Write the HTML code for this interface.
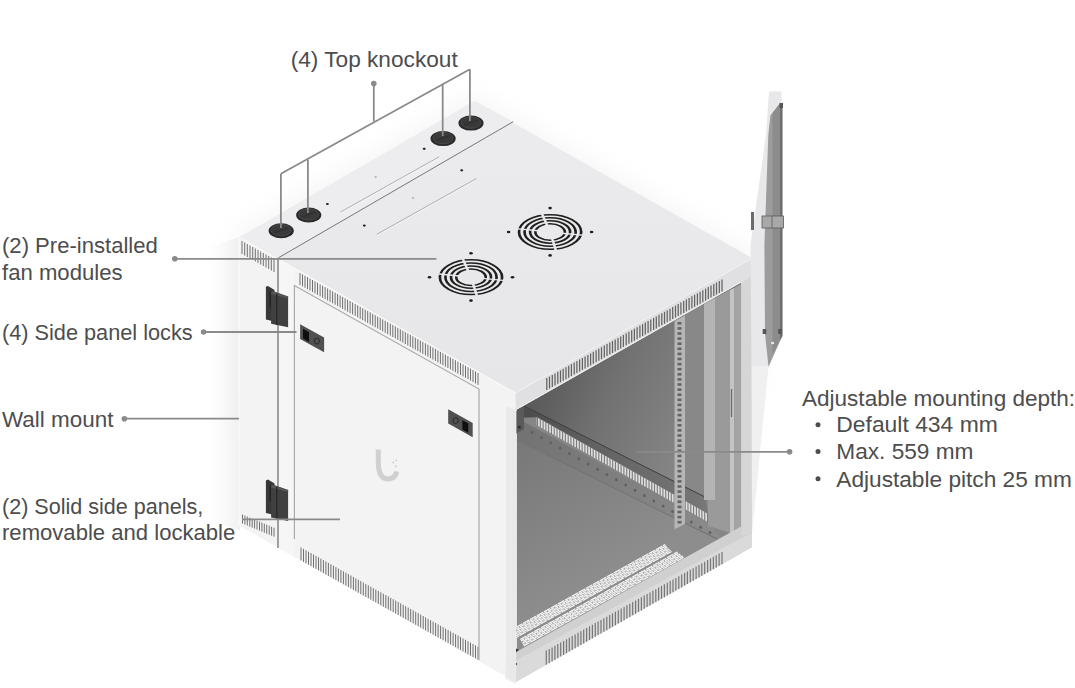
<!DOCTYPE html><html><head><meta charset="utf-8"><style>
html,body{margin:0;padding:0;background:#fff;overflow:hidden;width:1075px;height:688px;}
svg{display:block;}
text{font-family:"Liberation Sans",sans-serif;}
</style></head><body>
<svg width="1075" height="688" viewBox="0 0 1075 688">
<defs>
<linearGradient id="gTop" x1="0" y1="0" x2="0" y2="1">
<stop offset="0" stop-color="#ececef"/><stop offset="1" stop-color="#e6e6e9"/></linearGradient>
<linearGradient id="gInt" x1="0" y1="0" x2="0" y2="1">
<stop offset="0" stop-color="#6e6e6e"/><stop offset="0.5" stop-color="#858585"/><stop offset="1" stop-color="#8f8f8f"/></linearGradient>
<linearGradient id="gWall" gradientUnits="userSpaceOnUse" x1="520" y1="400" x2="680" y2="470">
<stop offset="0" stop-color="#565656"/><stop offset="0.45" stop-color="#717171"/><stop offset="1" stop-color="#868686"/></linearGradient>
<linearGradient id="gRailD" gradientUnits="userSpaceOnUse" x1="520" y1="0" x2="708" y2="0">
<stop offset="0" stop-color="#4a4a4a"/><stop offset="0.4" stop-color="#626262"/><stop offset="1" stop-color="#777777"/></linearGradient>
<linearGradient id="gLow" gradientUnits="userSpaceOnUse" x1="517" y1="0" x2="720" y2="0">
<stop offset="0" stop-color="#727272"/><stop offset="1" stop-color="#8c8c8c"/></linearGradient>
<linearGradient id="gFloor" gradientUnits="userSpaceOnUse" x1="520" y1="440" x2="600" y2="580">
<stop offset="0" stop-color="#787878"/><stop offset="1" stop-color="#8d8d8d"/></linearGradient>
</defs>
<rect width="1075" height="688" fill="#fff"/>

<defs><linearGradient id="gSh" x1="0" y1="0" x2="1" y2="0"><stop offset="0" stop-color="#fff" stop-opacity="0"/><stop offset="1" stop-color="#f0f0f0"/></linearGradient></defs>
<polygon points="200,250 240,237 240,530 200,520" fill="url(#gSh)"/>
<defs><filter id="blur12" x="-20%" y="-20%" width="140%" height="140%"><feGaussianBlur stdDeviation="12"/></filter></defs>
<polygon points="236.0,233.0 474.6,96.0 756.0,256.0 756.0,400.0 515.6,450.0 236.0,420.0" fill="#e9e9e9" opacity="0.45" filter="url(#blur12)"/>
<polygon points="240.0,237.0 278.6,257.7 278.6,548.0 240.0,526.0" fill="#f3f3f3"/>
<polygon points="278.6,257.7 515.6,392.6 515.6,682.0 278.6,548.0" fill="#f3f3f4"/>
<polygon points="278.6,257.7 294.4,266.5 294.4,557.0 278.6,548.0" fill="#f6f6f7"/>
<polygon points="240.0,237.0 474.6,101.0 752.0,258.0 515.6,392.6" fill="url(#gTop)"/>
<polygon points="240.0,237.0 474.6,101.0 513.2,121.7 278.6,257.7" fill="#ededf0"/>
<line x1="513.2" y1="121.7" x2="278.6" y2="257.7" stroke="#777" stroke-width="1"/>
<line x1="240" y1="237.4" x2="515.6" y2="393.0" stroke="#f9f9f9" stroke-width="1"/>
<polygon points="515.6,392.6 752.0,258.0 752.0,547.0 515.6,682.0" fill="#e3e3e3"/>
<polygon points="517.0,409.5 741.0,282.5 741.0,531.0 517.0,652.0" fill="#868686"/>
<polygon points="517.0,409.5 741.0,282.5 741.0,500.0 705.0,503.0 524.0,405.6" fill="url(#gWall)"/>
<polygon points="517.0,436.0 720.0,541.0 741.0,531.0 741.0,531.0 517.0,652.0" fill="url(#gFloor)"/>
<polygon points="684.0,315.0 706.0,303.0 706.0,515.0 684.0,525.0" fill="#888888"/>
<polygon points="517.0,418.0 707.7,521.9 722.0,540.0 517.0,440.0" fill="url(#gLow)"/>
<line x1="517" y1="440" x2="719" y2="540" stroke="#727272" stroke-width="1"/>
<ellipse cx="532.0" cy="432.3" rx="1.3" ry="1.5" fill="#5e5e5e"/>
<ellipse cx="541.4" cy="437.6" rx="1.3" ry="1.5" fill="#5e5e5e"/>
<ellipse cx="550.7" cy="442.8" rx="1.3" ry="1.5" fill="#5e5e5e"/>
<ellipse cx="560.1" cy="448.1" rx="1.3" ry="1.5" fill="#5e5e5e"/>
<ellipse cx="569.5" cy="453.4" rx="1.3" ry="1.5" fill="#5e5e5e"/>
<ellipse cx="578.8" cy="458.7" rx="1.3" ry="1.5" fill="#5e5e5e"/>
<ellipse cx="588.2" cy="463.9" rx="1.3" ry="1.5" fill="#5e5e5e"/>
<ellipse cx="597.6" cy="469.2" rx="1.3" ry="1.5" fill="#5e5e5e"/>
<ellipse cx="606.9" cy="474.5" rx="1.3" ry="1.5" fill="#5e5e5e"/>
<ellipse cx="616.3" cy="479.8" rx="1.3" ry="1.5" fill="#5e5e5e"/>
<ellipse cx="625.7" cy="485.0" rx="1.3" ry="1.5" fill="#5e5e5e"/>
<ellipse cx="635.1" cy="490.3" rx="1.3" ry="1.5" fill="#5e5e5e"/>
<ellipse cx="644.4" cy="495.6" rx="1.3" ry="1.5" fill="#5e5e5e"/>
<ellipse cx="653.8" cy="500.9" rx="1.3" ry="1.5" fill="#5e5e5e"/>
<ellipse cx="663.2" cy="506.1" rx="1.3" ry="1.5" fill="#5e5e5e"/>
<ellipse cx="672.5" cy="511.4" rx="1.3" ry="1.5" fill="#5e5e5e"/>
<ellipse cx="681.9" cy="516.7" rx="1.3" ry="1.5" fill="#5e5e5e"/>
<ellipse cx="691.3" cy="522.0" rx="1.3" ry="1.5" fill="#5e5e5e"/>
<ellipse cx="700.6" cy="527.2" rx="1.3" ry="1.5" fill="#5e5e5e"/>
<ellipse cx="710.0" cy="532.5" rx="1.3" ry="1.5" fill="#5e5e5e"/>
<polygon points="524.0,405.6 705.0,497.0 707.7,513.7 536.7,417.2 517.0,418.0 517.0,409.0" fill="url(#gRailD)"/>
<line x1="524" y1="406" x2="705" y2="497" stroke="#3e3e3e" stroke-width="1"/>
<polygon points="516.4,411.0 524.0,406.0 524.0,429.0 516.4,433.5" fill="#5a5a5a"/>
<circle cx="519.3" cy="427" r="1.5" fill="#2e2e2e"/>
<polygon points="536.7,417.2 707.7,513.7 707.7,521.9 536.7,425.3" fill="#e0e0e0"/>
<line x1="537.5" y1="416.7" x2="537.5" y2="426.0" stroke="#7a7a7a" stroke-width="1.1"/>
<line x1="540.3" y1="418.3" x2="540.3" y2="427.6" stroke="#7a7a7a" stroke-width="1.1"/>
<line x1="543.1" y1="419.9" x2="543.1" y2="429.2" stroke="#7a7a7a" stroke-width="1.1"/>
<line x1="545.9" y1="421.4" x2="545.9" y2="430.7" stroke="#7a7a7a" stroke-width="1.1"/>
<line x1="548.6" y1="423.0" x2="548.6" y2="432.3" stroke="#7a7a7a" stroke-width="1.1"/>
<line x1="551.4" y1="424.6" x2="551.4" y2="433.9" stroke="#7a7a7a" stroke-width="1.1"/>
<line x1="554.2" y1="426.2" x2="554.2" y2="435.5" stroke="#7a7a7a" stroke-width="1.1"/>
<line x1="557.0" y1="427.8" x2="557.0" y2="437.1" stroke="#7a7a7a" stroke-width="1.1"/>
<line x1="559.8" y1="429.4" x2="559.8" y2="438.7" stroke="#7a7a7a" stroke-width="1.1"/>
<line x1="562.6" y1="430.9" x2="562.6" y2="440.2" stroke="#7a7a7a" stroke-width="1.1"/>
<line x1="565.4" y1="432.5" x2="565.4" y2="441.8" stroke="#7a7a7a" stroke-width="1.1"/>
<line x1="568.2" y1="434.1" x2="568.2" y2="443.4" stroke="#7a7a7a" stroke-width="1.1"/>
<line x1="570.9" y1="435.7" x2="570.9" y2="445.0" stroke="#7a7a7a" stroke-width="1.1"/>
<line x1="573.7" y1="437.3" x2="573.7" y2="446.6" stroke="#7a7a7a" stroke-width="1.1"/>
<line x1="576.5" y1="438.8" x2="576.5" y2="448.1" stroke="#7a7a7a" stroke-width="1.1"/>
<line x1="579.3" y1="440.4" x2="579.3" y2="449.7" stroke="#7a7a7a" stroke-width="1.1"/>
<line x1="582.1" y1="442.0" x2="582.1" y2="451.3" stroke="#7a7a7a" stroke-width="1.1"/>
<line x1="584.9" y1="443.6" x2="584.9" y2="452.9" stroke="#7a7a7a" stroke-width="1.1"/>
<line x1="587.7" y1="445.2" x2="587.7" y2="454.5" stroke="#7a7a7a" stroke-width="1.1"/>
<line x1="590.5" y1="446.8" x2="590.5" y2="456.1" stroke="#7a7a7a" stroke-width="1.1"/>
<line x1="593.2" y1="448.3" x2="593.2" y2="457.6" stroke="#7a7a7a" stroke-width="1.1"/>
<line x1="596.0" y1="449.9" x2="596.0" y2="459.2" stroke="#7a7a7a" stroke-width="1.1"/>
<line x1="598.8" y1="451.5" x2="598.8" y2="460.8" stroke="#7a7a7a" stroke-width="1.1"/>
<line x1="601.6" y1="453.1" x2="601.6" y2="462.4" stroke="#7a7a7a" stroke-width="1.1"/>
<line x1="604.4" y1="454.7" x2="604.4" y2="464.0" stroke="#7a7a7a" stroke-width="1.1"/>
<line x1="607.2" y1="456.2" x2="607.2" y2="465.5" stroke="#7a7a7a" stroke-width="1.1"/>
<line x1="610.0" y1="457.8" x2="610.0" y2="467.1" stroke="#7a7a7a" stroke-width="1.1"/>
<line x1="612.7" y1="459.4" x2="612.7" y2="468.7" stroke="#7a7a7a" stroke-width="1.1"/>
<line x1="615.5" y1="461.0" x2="615.5" y2="470.3" stroke="#7a7a7a" stroke-width="1.1"/>
<line x1="618.3" y1="462.6" x2="618.3" y2="471.9" stroke="#7a7a7a" stroke-width="1.1"/>
<line x1="621.1" y1="464.2" x2="621.1" y2="473.5" stroke="#7a7a7a" stroke-width="1.1"/>
<line x1="623.9" y1="465.7" x2="623.9" y2="475.0" stroke="#7a7a7a" stroke-width="1.1"/>
<line x1="626.7" y1="467.3" x2="626.7" y2="476.6" stroke="#7a7a7a" stroke-width="1.1"/>
<line x1="629.5" y1="468.9" x2="629.5" y2="478.2" stroke="#7a7a7a" stroke-width="1.1"/>
<line x1="632.3" y1="470.5" x2="632.3" y2="479.8" stroke="#7a7a7a" stroke-width="1.1"/>
<line x1="635.0" y1="472.1" x2="635.0" y2="481.4" stroke="#7a7a7a" stroke-width="1.1"/>
<line x1="637.8" y1="473.7" x2="637.8" y2="483.0" stroke="#7a7a7a" stroke-width="1.1"/>
<line x1="640.6" y1="475.2" x2="640.6" y2="484.5" stroke="#7a7a7a" stroke-width="1.1"/>
<line x1="643.4" y1="476.8" x2="643.4" y2="486.1" stroke="#7a7a7a" stroke-width="1.1"/>
<line x1="646.2" y1="478.4" x2="646.2" y2="487.7" stroke="#7a7a7a" stroke-width="1.1"/>
<line x1="649.0" y1="480.0" x2="649.0" y2="489.3" stroke="#7a7a7a" stroke-width="1.1"/>
<line x1="651.8" y1="481.6" x2="651.8" y2="490.9" stroke="#7a7a7a" stroke-width="1.1"/>
<line x1="654.5" y1="483.1" x2="654.5" y2="492.4" stroke="#7a7a7a" stroke-width="1.1"/>
<line x1="657.3" y1="484.7" x2="657.3" y2="494.0" stroke="#7a7a7a" stroke-width="1.1"/>
<line x1="660.1" y1="486.3" x2="660.1" y2="495.6" stroke="#7a7a7a" stroke-width="1.1"/>
<line x1="662.9" y1="487.9" x2="662.9" y2="497.2" stroke="#7a7a7a" stroke-width="1.1"/>
<line x1="665.7" y1="489.5" x2="665.7" y2="498.8" stroke="#7a7a7a" stroke-width="1.1"/>
<line x1="668.5" y1="491.1" x2="668.5" y2="500.4" stroke="#7a7a7a" stroke-width="1.1"/>
<line x1="671.3" y1="492.6" x2="671.3" y2="501.9" stroke="#7a7a7a" stroke-width="1.1"/>
<line x1="674.1" y1="494.2" x2="674.1" y2="503.5" stroke="#7a7a7a" stroke-width="1.1"/>
<line x1="676.8" y1="495.8" x2="676.8" y2="505.1" stroke="#7a7a7a" stroke-width="1.1"/>
<line x1="679.6" y1="497.4" x2="679.6" y2="506.7" stroke="#7a7a7a" stroke-width="1.1"/>
<line x1="682.4" y1="499.0" x2="682.4" y2="508.3" stroke="#7a7a7a" stroke-width="1.1"/>
<line x1="685.2" y1="500.5" x2="685.2" y2="509.8" stroke="#7a7a7a" stroke-width="1.1"/>
<line x1="688.0" y1="502.1" x2="688.0" y2="511.4" stroke="#7a7a7a" stroke-width="1.1"/>
<line x1="690.8" y1="503.7" x2="690.8" y2="513.0" stroke="#7a7a7a" stroke-width="1.1"/>
<line x1="693.6" y1="505.3" x2="693.6" y2="514.6" stroke="#7a7a7a" stroke-width="1.1"/>
<line x1="696.4" y1="506.9" x2="696.4" y2="516.2" stroke="#7a7a7a" stroke-width="1.1"/>
<line x1="699.1" y1="508.5" x2="699.1" y2="517.8" stroke="#7a7a7a" stroke-width="1.1"/>
<line x1="701.9" y1="510.0" x2="701.9" y2="519.3" stroke="#7a7a7a" stroke-width="1.1"/>
<line x1="704.7" y1="511.6" x2="704.7" y2="520.9" stroke="#7a7a7a" stroke-width="1.1"/>
<line x1="707.5" y1="513.2" x2="707.5" y2="522.5" stroke="#7a7a7a" stroke-width="1.1"/>
<polygon points="704.0,304.0 715.0,298.0 715.0,500.0 704.0,500.0" fill="#b4b4b4"/>
<polygon points="708.0,500.0 715.0,500.0 715.0,528.0 708.0,526.0" fill="#9a9a9a"/>
<polygon points="715.0,298.0 730.0,290.0 730.0,533.0 715.0,528.0" fill="#9a9a9a"/>
<polygon points="730.0,290.0 734.4,288.0 734.4,534.0 730.0,533.0" fill="#c4c4c4"/>
<polygon points="734.4,288.0 741.4,284.0 741.4,534.0 734.4,534.0" fill="#a4a4a4"/>
<line x1="731.5" y1="389" x2="731.5" y2="417" stroke="#6a6a6a" stroke-width="1.2"/>
<polygon points="674.5,321.0 685.0,315.5 685.0,524.0 674.5,529.3" fill="#b6b6b6"/>
<rect x="677.5" y="322.0" width="4" height="2.6" fill="#646464"/>
<rect x="677.5" y="327.1" width="4" height="2.6" fill="#646464"/>
<rect x="677.5" y="332.2" width="4" height="2.6" fill="#646464"/>
<rect x="677.5" y="337.3" width="4" height="2.6" fill="#646464"/>
<rect x="677.5" y="342.4" width="4" height="2.6" fill="#646464"/>
<rect x="677.5" y="347.5" width="4" height="2.6" fill="#646464"/>
<rect x="677.5" y="352.6" width="4" height="2.6" fill="#646464"/>
<rect x="677.5" y="357.7" width="4" height="2.6" fill="#646464"/>
<rect x="677.5" y="362.8" width="4" height="2.6" fill="#646464"/>
<rect x="677.5" y="367.9" width="4" height="2.6" fill="#646464"/>
<rect x="677.5" y="373.0" width="4" height="2.6" fill="#646464"/>
<rect x="677.5" y="378.1" width="4" height="2.6" fill="#646464"/>
<rect x="677.5" y="383.2" width="4" height="2.6" fill="#646464"/>
<rect x="677.5" y="388.3" width="4" height="2.6" fill="#646464"/>
<rect x="677.5" y="393.4" width="4" height="2.6" fill="#646464"/>
<rect x="677.5" y="398.5" width="4" height="2.6" fill="#646464"/>
<rect x="677.5" y="403.6" width="4" height="2.6" fill="#646464"/>
<rect x="677.5" y="408.7" width="4" height="2.6" fill="#646464"/>
<rect x="677.5" y="413.8" width="4" height="2.6" fill="#646464"/>
<rect x="677.5" y="418.9" width="4" height="2.6" fill="#646464"/>
<rect x="677.5" y="424.0" width="4" height="2.6" fill="#646464"/>
<rect x="677.5" y="429.1" width="4" height="2.6" fill="#646464"/>
<rect x="677.5" y="434.2" width="4" height="2.6" fill="#646464"/>
<rect x="677.5" y="439.3" width="4" height="2.6" fill="#646464"/>
<rect x="677.5" y="444.4" width="4" height="2.6" fill="#646464"/>
<rect x="677.5" y="449.5" width="4" height="2.6" fill="#646464"/>
<rect x="677.5" y="454.6" width="4" height="2.6" fill="#646464"/>
<rect x="677.5" y="459.7" width="4" height="2.6" fill="#646464"/>
<rect x="677.5" y="464.8" width="4" height="2.6" fill="#646464"/>
<rect x="677.5" y="469.9" width="4" height="2.6" fill="#646464"/>
<rect x="677.5" y="475.0" width="4" height="2.6" fill="#646464"/>
<rect x="677.5" y="480.1" width="4" height="2.6" fill="#646464"/>
<rect x="677.5" y="485.2" width="4" height="2.6" fill="#646464"/>
<rect x="677.5" y="490.3" width="4" height="2.6" fill="#646464"/>
<rect x="677.5" y="495.4" width="4" height="2.6" fill="#646464"/>
<rect x="677.5" y="500.5" width="4" height="2.6" fill="#646464"/>
<rect x="677.5" y="505.6" width="4" height="2.6" fill="#646464"/>
<rect x="677.5" y="510.7" width="4" height="2.6" fill="#646464"/>
<rect x="677.5" y="515.8" width="4" height="2.6" fill="#646464"/>
<rect x="677.5" y="520.9" width="4" height="2.6" fill="#646464"/>
<polygon points="516.0,626.5 664.6,544.0 672.0,552.0 516.0,638.3" fill="#a2a2a2"/>
<line x1="516.0" y1="627.3" x2="665.1" y2="544.6" stroke="#f8f8f8" stroke-width="1.15" stroke-dasharray="7 1" stroke-dashoffset="0.0"/>
<line x1="516.0" y1="629.0" x2="666.2" y2="545.7" stroke="#f8f8f8" stroke-width="1.15" stroke-dasharray="7 1" stroke-dashoffset="3.3"/>
<line x1="516.0" y1="630.7" x2="667.2" y2="546.9" stroke="#f8f8f8" stroke-width="1.15" stroke-dasharray="7 1" stroke-dashoffset="6.6"/>
<line x1="516.0" y1="632.4" x2="668.3" y2="548.0" stroke="#f8f8f8" stroke-width="1.15" stroke-dasharray="7 1" stroke-dashoffset="9.9"/>
<line x1="516.0" y1="634.1" x2="669.4" y2="549.1" stroke="#f8f8f8" stroke-width="1.15" stroke-dasharray="7 1" stroke-dashoffset="13.2"/>
<line x1="516.0" y1="635.8" x2="670.4" y2="550.3" stroke="#f8f8f8" stroke-width="1.15" stroke-dasharray="7 1" stroke-dashoffset="16.5"/>
<line x1="516.0" y1="637.5" x2="671.5" y2="551.4" stroke="#f8f8f8" stroke-width="1.15" stroke-dasharray="7 1" stroke-dashoffset="19.8"/>
<polygon points="520.0,638.8 676.8,551.5 685.0,557.5 524.0,646.5" fill="#a2a2a2"/>
<line x1="520.3" y1="639.4" x2="677.5" y2="552.0" stroke="#f8f8f8" stroke-width="1.15" stroke-dasharray="7 1" stroke-dashoffset="0.0"/>
<line x1="521.0" y1="640.7" x2="678.8" y2="553.0" stroke="#f8f8f8" stroke-width="1.15" stroke-dasharray="7 1" stroke-dashoffset="3.3"/>
<line x1="521.7" y1="642.0" x2="680.2" y2="554.0" stroke="#f8f8f8" stroke-width="1.15" stroke-dasharray="7 1" stroke-dashoffset="6.6"/>
<line x1="522.3" y1="643.3" x2="681.6" y2="555.0" stroke="#f8f8f8" stroke-width="1.15" stroke-dasharray="7 1" stroke-dashoffset="9.9"/>
<line x1="523.0" y1="644.6" x2="683.0" y2="556.0" stroke="#f8f8f8" stroke-width="1.15" stroke-dasharray="7 1" stroke-dashoffset="13.2"/>
<line x1="523.7" y1="645.9" x2="684.3" y2="557.0" stroke="#f8f8f8" stroke-width="1.15" stroke-dasharray="7 1" stroke-dashoffset="16.5"/>
<polygon points="516,648.5 519,650 516,653" fill="#333"/>
<polygon points="515.6,392.6 752.0,258.0 752.0,276.0 741.0,282.5 517.0,409.5" fill="#e0e0e2"/>
<line x1="546.8" y1="378.0" x2="546.8" y2="390.0" stroke="#626262" stroke-width="1.25"/>
<line x1="549.5" y1="376.5" x2="549.5" y2="388.5" stroke="#626262" stroke-width="1.25"/>
<line x1="552.3" y1="374.9" x2="552.3" y2="386.9" stroke="#626262" stroke-width="1.25"/>
<line x1="555.0" y1="373.4" x2="555.0" y2="385.4" stroke="#626262" stroke-width="1.25"/>
<line x1="557.8" y1="371.8" x2="557.8" y2="383.8" stroke="#626262" stroke-width="1.25"/>
<line x1="560.5" y1="370.3" x2="560.5" y2="382.3" stroke="#626262" stroke-width="1.25"/>
<line x1="563.2" y1="368.8" x2="563.2" y2="380.8" stroke="#626262" stroke-width="1.25"/>
<line x1="566.0" y1="367.2" x2="566.0" y2="379.2" stroke="#626262" stroke-width="1.25"/>
<line x1="568.7" y1="365.7" x2="568.7" y2="377.7" stroke="#626262" stroke-width="1.25"/>
<line x1="571.4" y1="364.1" x2="571.4" y2="376.1" stroke="#626262" stroke-width="1.25"/>
<line x1="574.2" y1="362.6" x2="574.2" y2="374.6" stroke="#626262" stroke-width="1.25"/>
<line x1="576.9" y1="361.1" x2="576.9" y2="373.1" stroke="#626262" stroke-width="1.25"/>
<line x1="579.6" y1="359.5" x2="579.6" y2="371.5" stroke="#626262" stroke-width="1.25"/>
<line x1="582.4" y1="358.0" x2="582.4" y2="370.0" stroke="#626262" stroke-width="1.25"/>
<line x1="585.1" y1="356.4" x2="585.1" y2="368.4" stroke="#626262" stroke-width="1.25"/>
<line x1="587.9" y1="354.9" x2="587.9" y2="366.9" stroke="#626262" stroke-width="1.25"/>
<line x1="590.6" y1="353.4" x2="590.6" y2="365.4" stroke="#626262" stroke-width="1.25"/>
<line x1="593.3" y1="351.8" x2="593.3" y2="363.8" stroke="#626262" stroke-width="1.25"/>
<line x1="596.1" y1="350.3" x2="596.1" y2="362.3" stroke="#626262" stroke-width="1.25"/>
<line x1="598.8" y1="348.7" x2="598.8" y2="360.7" stroke="#626262" stroke-width="1.25"/>
<line x1="601.5" y1="347.2" x2="601.5" y2="359.2" stroke="#626262" stroke-width="1.25"/>
<line x1="604.3" y1="345.6" x2="604.3" y2="357.6" stroke="#626262" stroke-width="1.25"/>
<line x1="607.0" y1="344.1" x2="607.0" y2="356.1" stroke="#626262" stroke-width="1.25"/>
<line x1="609.8" y1="342.6" x2="609.8" y2="354.6" stroke="#626262" stroke-width="1.25"/>
<line x1="612.5" y1="341.0" x2="612.5" y2="353.0" stroke="#626262" stroke-width="1.25"/>
<line x1="615.2" y1="339.5" x2="615.2" y2="351.5" stroke="#626262" stroke-width="1.25"/>
<line x1="618.0" y1="337.9" x2="618.0" y2="349.9" stroke="#626262" stroke-width="1.25"/>
<line x1="620.7" y1="336.4" x2="620.7" y2="348.4" stroke="#626262" stroke-width="1.25"/>
<line x1="623.4" y1="334.9" x2="623.4" y2="346.9" stroke="#626262" stroke-width="1.25"/>
<line x1="626.2" y1="333.3" x2="626.2" y2="345.3" stroke="#626262" stroke-width="1.25"/>
<line x1="628.9" y1="331.8" x2="628.9" y2="343.8" stroke="#626262" stroke-width="1.25"/>
<line x1="631.7" y1="330.2" x2="631.7" y2="342.2" stroke="#626262" stroke-width="1.25"/>
<line x1="634.4" y1="328.7" x2="634.4" y2="340.7" stroke="#626262" stroke-width="1.25"/>
<line x1="637.1" y1="327.2" x2="637.1" y2="339.2" stroke="#626262" stroke-width="1.25"/>
<line x1="639.9" y1="325.6" x2="639.9" y2="337.6" stroke="#626262" stroke-width="1.25"/>
<line x1="642.6" y1="324.1" x2="642.6" y2="336.1" stroke="#626262" stroke-width="1.25"/>
<line x1="645.3" y1="322.5" x2="645.3" y2="334.5" stroke="#626262" stroke-width="1.25"/>
<line x1="648.1" y1="321.0" x2="648.1" y2="333.0" stroke="#626262" stroke-width="1.25"/>
<line x1="650.8" y1="319.5" x2="650.8" y2="331.5" stroke="#626262" stroke-width="1.25"/>
<line x1="653.6" y1="317.9" x2="653.6" y2="329.9" stroke="#626262" stroke-width="1.25"/>
<line x1="656.3" y1="316.4" x2="656.3" y2="328.4" stroke="#626262" stroke-width="1.25"/>
<line x1="659.0" y1="314.8" x2="659.0" y2="326.8" stroke="#626262" stroke-width="1.25"/>
<line x1="661.8" y1="313.3" x2="661.8" y2="325.3" stroke="#626262" stroke-width="1.25"/>
<line x1="664.5" y1="311.8" x2="664.5" y2="323.8" stroke="#626262" stroke-width="1.25"/>
<line x1="667.2" y1="310.2" x2="667.2" y2="322.2" stroke="#626262" stroke-width="1.25"/>
<line x1="670.0" y1="308.7" x2="670.0" y2="320.7" stroke="#626262" stroke-width="1.25"/>
<line x1="672.7" y1="307.1" x2="672.7" y2="319.1" stroke="#626262" stroke-width="1.25"/>
<line x1="675.5" y1="305.6" x2="675.5" y2="317.6" stroke="#626262" stroke-width="1.25"/>
<line x1="678.2" y1="304.0" x2="678.2" y2="316.0" stroke="#626262" stroke-width="1.25"/>
<line x1="680.9" y1="302.5" x2="680.9" y2="314.5" stroke="#626262" stroke-width="1.25"/>
<line x1="683.7" y1="301.0" x2="683.7" y2="313.0" stroke="#626262" stroke-width="1.25"/>
<line x1="686.4" y1="299.4" x2="686.4" y2="311.4" stroke="#626262" stroke-width="1.25"/>
<line x1="689.1" y1="297.9" x2="689.1" y2="309.9" stroke="#626262" stroke-width="1.25"/>
<line x1="691.9" y1="296.3" x2="691.9" y2="308.3" stroke="#626262" stroke-width="1.25"/>
<line x1="694.6" y1="294.8" x2="694.6" y2="306.8" stroke="#626262" stroke-width="1.25"/>
<line x1="697.4" y1="293.3" x2="697.4" y2="305.3" stroke="#626262" stroke-width="1.25"/>
<line x1="700.1" y1="291.7" x2="700.1" y2="303.7" stroke="#626262" stroke-width="1.25"/>
<line x1="702.8" y1="290.2" x2="702.8" y2="302.2" stroke="#626262" stroke-width="1.25"/>
<line x1="705.6" y1="288.6" x2="705.6" y2="300.6" stroke="#626262" stroke-width="1.25"/>
<line x1="708.3" y1="287.1" x2="708.3" y2="299.1" stroke="#626262" stroke-width="1.25"/>
<line x1="711.0" y1="285.6" x2="711.0" y2="297.6" stroke="#626262" stroke-width="1.25"/>
<line x1="713.8" y1="284.0" x2="713.8" y2="296.0" stroke="#626262" stroke-width="1.25"/>
<line x1="716.5" y1="282.5" x2="716.5" y2="294.5" stroke="#626262" stroke-width="1.25"/>
<line x1="719.3" y1="280.9" x2="719.3" y2="292.9" stroke="#626262" stroke-width="1.25"/>
<line x1="722.0" y1="279.4" x2="722.0" y2="291.4" stroke="#626262" stroke-width="1.25"/>
<line x1="515.6" y1="392.90000000000003" x2="752" y2="258.3" stroke="#f4f4f6" stroke-width="1"/>
<line x1="517" y1="409" x2="741" y2="282" stroke="#efefef" stroke-width="1"/>
<polygon points="516.1,652.0 742.0,526.0 752.0,526.0 752.0,547.0 515.6,682.0" fill="#d0d0d0"/>
<polygon points="516.1,660.2 742.0,537.8 752.0,533.0 752.0,547.0 515.6,682.0" fill="#dadada"/>
<line x1="546.3" y1="650.6" x2="546.3" y2="664.8" stroke="#767676" stroke-width="1.2"/>
<line x1="549.2" y1="649.0" x2="549.2" y2="663.2" stroke="#767676" stroke-width="1.2"/>
<line x1="552.1" y1="647.4" x2="552.1" y2="661.5" stroke="#767676" stroke-width="1.2"/>
<line x1="554.9" y1="645.8" x2="554.9" y2="659.9" stroke="#767676" stroke-width="1.2"/>
<line x1="557.8" y1="644.1" x2="557.8" y2="658.2" stroke="#767676" stroke-width="1.2"/>
<line x1="560.7" y1="642.5" x2="560.7" y2="656.6" stroke="#767676" stroke-width="1.2"/>
<line x1="563.6" y1="640.9" x2="563.6" y2="654.9" stroke="#767676" stroke-width="1.2"/>
<line x1="566.5" y1="639.3" x2="566.5" y2="653.3" stroke="#767676" stroke-width="1.2"/>
<line x1="569.3" y1="637.7" x2="569.3" y2="651.6" stroke="#767676" stroke-width="1.2"/>
<line x1="572.2" y1="636.1" x2="572.2" y2="650.0" stroke="#767676" stroke-width="1.2"/>
<line x1="575.1" y1="634.4" x2="575.1" y2="648.3" stroke="#767676" stroke-width="1.2"/>
<line x1="578.0" y1="632.8" x2="578.0" y2="646.7" stroke="#767676" stroke-width="1.2"/>
<line x1="580.9" y1="631.2" x2="580.9" y2="645.0" stroke="#767676" stroke-width="1.2"/>
<line x1="583.7" y1="629.6" x2="583.7" y2="643.4" stroke="#767676" stroke-width="1.2"/>
<line x1="586.6" y1="628.0" x2="586.6" y2="641.7" stroke="#767676" stroke-width="1.2"/>
<line x1="589.5" y1="626.4" x2="589.5" y2="640.1" stroke="#767676" stroke-width="1.2"/>
<line x1="592.4" y1="624.7" x2="592.4" y2="638.4" stroke="#767676" stroke-width="1.2"/>
<line x1="595.3" y1="623.1" x2="595.3" y2="636.8" stroke="#767676" stroke-width="1.2"/>
<line x1="598.1" y1="621.5" x2="598.1" y2="635.1" stroke="#767676" stroke-width="1.2"/>
<line x1="601.0" y1="619.9" x2="601.0" y2="633.5" stroke="#767676" stroke-width="1.2"/>
<line x1="603.9" y1="618.3" x2="603.9" y2="631.8" stroke="#767676" stroke-width="1.2"/>
<line x1="606.8" y1="616.7" x2="606.8" y2="630.2" stroke="#767676" stroke-width="1.2"/>
<line x1="609.7" y1="615.0" x2="609.7" y2="628.5" stroke="#767676" stroke-width="1.2"/>
<line x1="612.5" y1="613.4" x2="612.5" y2="626.9" stroke="#767676" stroke-width="1.2"/>
<line x1="615.4" y1="611.8" x2="615.4" y2="625.2" stroke="#767676" stroke-width="1.2"/>
<line x1="618.3" y1="610.2" x2="618.3" y2="623.6" stroke="#767676" stroke-width="1.2"/>
<line x1="621.2" y1="608.6" x2="621.2" y2="621.9" stroke="#767676" stroke-width="1.2"/>
<line x1="624.1" y1="607.0" x2="624.1" y2="620.3" stroke="#767676" stroke-width="1.2"/>
<line x1="626.9" y1="605.3" x2="626.9" y2="618.6" stroke="#767676" stroke-width="1.2"/>
<line x1="629.8" y1="603.7" x2="629.8" y2="617.0" stroke="#767676" stroke-width="1.2"/>
<line x1="632.7" y1="602.1" x2="632.7" y2="615.3" stroke="#767676" stroke-width="1.2"/>
<line x1="635.6" y1="600.5" x2="635.6" y2="613.7" stroke="#767676" stroke-width="1.2"/>
<line x1="638.5" y1="598.9" x2="638.5" y2="612.0" stroke="#767676" stroke-width="1.2"/>
<line x1="641.4" y1="597.3" x2="641.4" y2="610.4" stroke="#767676" stroke-width="1.2"/>
<line x1="644.2" y1="595.6" x2="644.2" y2="608.7" stroke="#767676" stroke-width="1.2"/>
<line x1="647.1" y1="594.0" x2="647.1" y2="607.1" stroke="#767676" stroke-width="1.2"/>
<line x1="650.0" y1="592.4" x2="650.0" y2="605.4" stroke="#767676" stroke-width="1.2"/>
<line x1="652.9" y1="590.8" x2="652.9" y2="603.8" stroke="#767676" stroke-width="1.2"/>
<line x1="655.8" y1="589.2" x2="655.8" y2="602.1" stroke="#767676" stroke-width="1.2"/>
<line x1="658.6" y1="587.6" x2="658.6" y2="600.5" stroke="#767676" stroke-width="1.2"/>
<line x1="661.5" y1="585.9" x2="661.5" y2="598.8" stroke="#767676" stroke-width="1.2"/>
<line x1="664.4" y1="584.3" x2="664.4" y2="597.2" stroke="#767676" stroke-width="1.2"/>
<line x1="667.3" y1="582.7" x2="667.3" y2="595.5" stroke="#767676" stroke-width="1.2"/>
<line x1="670.2" y1="581.1" x2="670.2" y2="593.9" stroke="#767676" stroke-width="1.2"/>
<line x1="673.0" y1="579.5" x2="673.0" y2="592.2" stroke="#767676" stroke-width="1.2"/>
<line x1="675.9" y1="577.9" x2="675.9" y2="590.6" stroke="#767676" stroke-width="1.2"/>
<line x1="678.8" y1="576.2" x2="678.8" y2="588.9" stroke="#767676" stroke-width="1.2"/>
<line x1="681.7" y1="574.6" x2="681.7" y2="587.3" stroke="#767676" stroke-width="1.2"/>
<line x1="684.6" y1="573.0" x2="684.6" y2="585.6" stroke="#767676" stroke-width="1.2"/>
<line x1="687.4" y1="571.4" x2="687.4" y2="584.0" stroke="#767676" stroke-width="1.2"/>
<line x1="690.3" y1="569.8" x2="690.3" y2="582.3" stroke="#767676" stroke-width="1.2"/>
<line x1="693.2" y1="568.2" x2="693.2" y2="580.7" stroke="#767676" stroke-width="1.2"/>
<line x1="696.1" y1="566.5" x2="696.1" y2="579.0" stroke="#767676" stroke-width="1.2"/>
<line x1="699.0" y1="564.9" x2="699.0" y2="577.4" stroke="#767676" stroke-width="1.2"/>
<line x1="701.8" y1="563.3" x2="701.8" y2="575.7" stroke="#767676" stroke-width="1.2"/>
<line x1="704.7" y1="561.7" x2="704.7" y2="574.1" stroke="#767676" stroke-width="1.2"/>
<line x1="707.6" y1="560.1" x2="707.6" y2="572.4" stroke="#767676" stroke-width="1.2"/>
<line x1="710.5" y1="558.5" x2="710.5" y2="570.8" stroke="#767676" stroke-width="1.2"/>
<line x1="713.4" y1="556.8" x2="713.4" y2="569.1" stroke="#767676" stroke-width="1.2"/>
<line x1="716.2" y1="555.2" x2="716.2" y2="567.5" stroke="#767676" stroke-width="1.2"/>
<line x1="719.1" y1="553.6" x2="719.1" y2="565.8" stroke="#767676" stroke-width="1.2"/>
<line x1="722.0" y1="552.0" x2="722.0" y2="564.2" stroke="#767676" stroke-width="1.2"/>
<polygon points="505,661 515.7,661 515.7,684 505,679" fill="#f0f0f0"/>
<circle cx="516.4" cy="664" r="0.9" fill="#555"/>
<polygon points="741.4,283.0 752.0,276.0 752.0,533.0 741.4,536.0" fill="#d6d6d6"/>
<line x1="300.0" y1="273.0" x2="300.0" y2="285.0" stroke="#6f6f6f" stroke-width="1.0"/>
<line x1="302.5" y1="274.4" x2="302.5" y2="286.4" stroke="#6f6f6f" stroke-width="1.0"/>
<line x1="305.0" y1="275.8" x2="305.0" y2="287.8" stroke="#6f6f6f" stroke-width="1.0"/>
<line x1="307.5" y1="277.2" x2="307.5" y2="289.2" stroke="#6f6f6f" stroke-width="1.0"/>
<line x1="310.0" y1="278.6" x2="310.0" y2="290.6" stroke="#6f6f6f" stroke-width="1.0"/>
<line x1="312.5" y1="280.0" x2="312.5" y2="292.0" stroke="#6f6f6f" stroke-width="1.0"/>
<line x1="315.0" y1="281.4" x2="315.0" y2="293.4" stroke="#6f6f6f" stroke-width="1.0"/>
<line x1="317.5" y1="282.8" x2="317.5" y2="294.8" stroke="#6f6f6f" stroke-width="1.0"/>
<line x1="320.1" y1="284.3" x2="320.1" y2="296.3" stroke="#6f6f6f" stroke-width="1.0"/>
<line x1="322.6" y1="285.7" x2="322.6" y2="297.7" stroke="#6f6f6f" stroke-width="1.0"/>
<line x1="325.1" y1="287.1" x2="325.1" y2="299.1" stroke="#6f6f6f" stroke-width="1.0"/>
<line x1="327.6" y1="288.5" x2="327.6" y2="300.5" stroke="#6f6f6f" stroke-width="1.0"/>
<line x1="330.1" y1="289.9" x2="330.1" y2="301.9" stroke="#6f6f6f" stroke-width="1.0"/>
<line x1="332.6" y1="291.3" x2="332.6" y2="303.3" stroke="#6f6f6f" stroke-width="1.0"/>
<line x1="335.1" y1="292.7" x2="335.1" y2="304.7" stroke="#6f6f6f" stroke-width="1.0"/>
<line x1="337.6" y1="294.1" x2="337.6" y2="306.1" stroke="#6f6f6f" stroke-width="1.0"/>
<line x1="340.1" y1="295.5" x2="340.1" y2="307.5" stroke="#6f6f6f" stroke-width="1.0"/>
<line x1="342.6" y1="296.9" x2="342.6" y2="308.9" stroke="#6f6f6f" stroke-width="1.0"/>
<line x1="345.1" y1="298.3" x2="345.1" y2="310.3" stroke="#6f6f6f" stroke-width="1.0"/>
<line x1="347.6" y1="299.7" x2="347.6" y2="311.7" stroke="#6f6f6f" stroke-width="1.0"/>
<line x1="350.1" y1="301.1" x2="350.1" y2="313.1" stroke="#6f6f6f" stroke-width="1.0"/>
<line x1="352.6" y1="302.5" x2="352.6" y2="314.5" stroke="#6f6f6f" stroke-width="1.0"/>
<line x1="355.2" y1="303.9" x2="355.2" y2="315.9" stroke="#6f6f6f" stroke-width="1.0"/>
<line x1="357.7" y1="305.3" x2="357.7" y2="317.3" stroke="#6f6f6f" stroke-width="1.0"/>
<line x1="360.2" y1="306.8" x2="360.2" y2="318.8" stroke="#6f6f6f" stroke-width="1.0"/>
<line x1="362.7" y1="308.2" x2="362.7" y2="320.2" stroke="#6f6f6f" stroke-width="1.0"/>
<line x1="365.2" y1="309.6" x2="365.2" y2="321.6" stroke="#6f6f6f" stroke-width="1.0"/>
<line x1="367.7" y1="311.0" x2="367.7" y2="323.0" stroke="#6f6f6f" stroke-width="1.0"/>
<line x1="370.2" y1="312.4" x2="370.2" y2="324.4" stroke="#6f6f6f" stroke-width="1.0"/>
<line x1="372.7" y1="313.8" x2="372.7" y2="325.8" stroke="#6f6f6f" stroke-width="1.0"/>
<line x1="375.2" y1="315.2" x2="375.2" y2="327.2" stroke="#6f6f6f" stroke-width="1.0"/>
<line x1="377.7" y1="316.6" x2="377.7" y2="328.6" stroke="#6f6f6f" stroke-width="1.0"/>
<line x1="380.2" y1="318.0" x2="380.2" y2="330.0" stroke="#6f6f6f" stroke-width="1.0"/>
<line x1="382.7" y1="319.4" x2="382.7" y2="331.4" stroke="#6f6f6f" stroke-width="1.0"/>
<line x1="385.2" y1="320.8" x2="385.2" y2="332.8" stroke="#6f6f6f" stroke-width="1.0"/>
<line x1="387.7" y1="322.2" x2="387.7" y2="334.2" stroke="#6f6f6f" stroke-width="1.0"/>
<line x1="390.3" y1="323.6" x2="390.3" y2="335.6" stroke="#6f6f6f" stroke-width="1.0"/>
<line x1="392.8" y1="325.0" x2="392.8" y2="337.0" stroke="#6f6f6f" stroke-width="1.0"/>
<line x1="395.3" y1="326.4" x2="395.3" y2="338.4" stroke="#6f6f6f" stroke-width="1.0"/>
<line x1="397.8" y1="327.9" x2="397.8" y2="339.9" stroke="#6f6f6f" stroke-width="1.0"/>
<line x1="400.3" y1="329.3" x2="400.3" y2="341.3" stroke="#6f6f6f" stroke-width="1.0"/>
<line x1="402.8" y1="330.7" x2="402.8" y2="342.7" stroke="#6f6f6f" stroke-width="1.0"/>
<line x1="405.3" y1="332.1" x2="405.3" y2="344.1" stroke="#6f6f6f" stroke-width="1.0"/>
<line x1="407.8" y1="333.5" x2="407.8" y2="345.5" stroke="#6f6f6f" stroke-width="1.0"/>
<line x1="410.3" y1="334.9" x2="410.3" y2="346.9" stroke="#6f6f6f" stroke-width="1.0"/>
<line x1="412.8" y1="336.3" x2="412.8" y2="348.3" stroke="#6f6f6f" stroke-width="1.0"/>
<line x1="415.3" y1="337.7" x2="415.3" y2="349.7" stroke="#6f6f6f" stroke-width="1.0"/>
<line x1="417.8" y1="339.1" x2="417.8" y2="351.1" stroke="#6f6f6f" stroke-width="1.0"/>
<line x1="420.3" y1="340.5" x2="420.3" y2="352.5" stroke="#6f6f6f" stroke-width="1.0"/>
<line x1="422.8" y1="341.9" x2="422.8" y2="353.9" stroke="#6f6f6f" stroke-width="1.0"/>
<line x1="425.4" y1="343.3" x2="425.4" y2="355.3" stroke="#6f6f6f" stroke-width="1.0"/>
<line x1="427.9" y1="344.7" x2="427.9" y2="356.7" stroke="#6f6f6f" stroke-width="1.0"/>
<line x1="430.4" y1="346.1" x2="430.4" y2="358.1" stroke="#6f6f6f" stroke-width="1.0"/>
<line x1="432.9" y1="347.5" x2="432.9" y2="359.5" stroke="#6f6f6f" stroke-width="1.0"/>
<line x1="435.4" y1="348.9" x2="435.4" y2="360.9" stroke="#6f6f6f" stroke-width="1.0"/>
<line x1="437.9" y1="350.4" x2="437.9" y2="362.4" stroke="#6f6f6f" stroke-width="1.0"/>
<line x1="440.4" y1="351.8" x2="440.4" y2="363.8" stroke="#6f6f6f" stroke-width="1.0"/>
<line x1="442.9" y1="353.2" x2="442.9" y2="365.2" stroke="#6f6f6f" stroke-width="1.0"/>
<line x1="445.4" y1="354.6" x2="445.4" y2="366.6" stroke="#6f6f6f" stroke-width="1.0"/>
<line x1="447.9" y1="356.0" x2="447.9" y2="368.0" stroke="#6f6f6f" stroke-width="1.0"/>
<line x1="450.4" y1="357.4" x2="450.4" y2="369.4" stroke="#6f6f6f" stroke-width="1.0"/>
<line x1="452.9" y1="358.8" x2="452.9" y2="370.8" stroke="#6f6f6f" stroke-width="1.0"/>
<line x1="455.4" y1="360.2" x2="455.4" y2="372.2" stroke="#6f6f6f" stroke-width="1.0"/>
<line x1="457.9" y1="361.6" x2="457.9" y2="373.6" stroke="#6f6f6f" stroke-width="1.0"/>
<line x1="460.5" y1="363.0" x2="460.5" y2="375.0" stroke="#6f6f6f" stroke-width="1.0"/>
<line x1="463.0" y1="364.4" x2="463.0" y2="376.4" stroke="#6f6f6f" stroke-width="1.0"/>
<line x1="465.5" y1="365.8" x2="465.5" y2="377.8" stroke="#6f6f6f" stroke-width="1.0"/>
<line x1="468.0" y1="367.2" x2="468.0" y2="379.2" stroke="#6f6f6f" stroke-width="1.0"/>
<line x1="470.5" y1="368.6" x2="470.5" y2="380.6" stroke="#6f6f6f" stroke-width="1.0"/>
<line x1="473.0" y1="370.0" x2="473.0" y2="382.0" stroke="#6f6f6f" stroke-width="1.0"/>
<line x1="475.5" y1="371.5" x2="475.5" y2="383.5" stroke="#6f6f6f" stroke-width="1.0"/>
<line x1="478.0" y1="372.9" x2="478.0" y2="384.9" stroke="#6f6f6f" stroke-width="1.0"/>
<line x1="301.0" y1="547.5" x2="301.0" y2="560.5" stroke="#6f6f6f" stroke-width="1.0"/>
<line x1="303.5" y1="548.9" x2="303.5" y2="561.9" stroke="#6f6f6f" stroke-width="1.0"/>
<line x1="306.0" y1="550.3" x2="306.0" y2="563.3" stroke="#6f6f6f" stroke-width="1.0"/>
<line x1="308.5" y1="551.7" x2="308.5" y2="564.7" stroke="#6f6f6f" stroke-width="1.0"/>
<line x1="311.0" y1="553.1" x2="311.0" y2="566.1" stroke="#6f6f6f" stroke-width="1.0"/>
<line x1="313.5" y1="554.5" x2="313.5" y2="567.5" stroke="#6f6f6f" stroke-width="1.0"/>
<line x1="316.0" y1="555.9" x2="316.0" y2="568.9" stroke="#6f6f6f" stroke-width="1.0"/>
<line x1="318.5" y1="557.3" x2="318.5" y2="570.3" stroke="#6f6f6f" stroke-width="1.0"/>
<line x1="320.9" y1="558.7" x2="320.9" y2="571.7" stroke="#6f6f6f" stroke-width="1.0"/>
<line x1="323.4" y1="560.1" x2="323.4" y2="573.1" stroke="#6f6f6f" stroke-width="1.0"/>
<line x1="325.9" y1="561.5" x2="325.9" y2="574.5" stroke="#6f6f6f" stroke-width="1.0"/>
<line x1="328.4" y1="562.9" x2="328.4" y2="575.9" stroke="#6f6f6f" stroke-width="1.0"/>
<line x1="330.9" y1="564.3" x2="330.9" y2="577.3" stroke="#6f6f6f" stroke-width="1.0"/>
<line x1="333.4" y1="565.7" x2="333.4" y2="578.7" stroke="#6f6f6f" stroke-width="1.0"/>
<line x1="335.9" y1="567.1" x2="335.9" y2="580.1" stroke="#6f6f6f" stroke-width="1.0"/>
<line x1="338.4" y1="568.5" x2="338.4" y2="581.5" stroke="#6f6f6f" stroke-width="1.0"/>
<line x1="340.9" y1="569.9" x2="340.9" y2="582.9" stroke="#6f6f6f" stroke-width="1.0"/>
<line x1="343.4" y1="571.3" x2="343.4" y2="584.3" stroke="#6f6f6f" stroke-width="1.0"/>
<line x1="345.9" y1="572.7" x2="345.9" y2="585.7" stroke="#6f6f6f" stroke-width="1.0"/>
<line x1="348.4" y1="574.1" x2="348.4" y2="587.1" stroke="#6f6f6f" stroke-width="1.0"/>
<line x1="350.9" y1="575.5" x2="350.9" y2="588.5" stroke="#6f6f6f" stroke-width="1.0"/>
<line x1="353.4" y1="576.9" x2="353.4" y2="589.9" stroke="#6f6f6f" stroke-width="1.0"/>
<line x1="355.8" y1="578.3" x2="355.8" y2="591.3" stroke="#6f6f6f" stroke-width="1.0"/>
<line x1="358.3" y1="579.7" x2="358.3" y2="592.7" stroke="#6f6f6f" stroke-width="1.0"/>
<line x1="360.8" y1="581.1" x2="360.8" y2="594.1" stroke="#6f6f6f" stroke-width="1.0"/>
<line x1="363.3" y1="582.5" x2="363.3" y2="595.5" stroke="#6f6f6f" stroke-width="1.0"/>
<line x1="365.8" y1="583.9" x2="365.8" y2="596.9" stroke="#6f6f6f" stroke-width="1.0"/>
<line x1="368.3" y1="585.3" x2="368.3" y2="598.3" stroke="#6f6f6f" stroke-width="1.0"/>
<line x1="370.8" y1="586.7" x2="370.8" y2="599.7" stroke="#6f6f6f" stroke-width="1.0"/>
<line x1="373.3" y1="588.1" x2="373.3" y2="601.1" stroke="#6f6f6f" stroke-width="1.0"/>
<line x1="375.8" y1="589.5" x2="375.8" y2="602.5" stroke="#6f6f6f" stroke-width="1.0"/>
<line x1="378.3" y1="590.9" x2="378.3" y2="603.9" stroke="#6f6f6f" stroke-width="1.0"/>
<line x1="380.8" y1="592.3" x2="380.8" y2="605.3" stroke="#6f6f6f" stroke-width="1.0"/>
<line x1="383.3" y1="593.7" x2="383.3" y2="606.7" stroke="#6f6f6f" stroke-width="1.0"/>
<line x1="385.8" y1="595.1" x2="385.8" y2="608.1" stroke="#6f6f6f" stroke-width="1.0"/>
<line x1="388.3" y1="596.4" x2="388.3" y2="609.4" stroke="#6f6f6f" stroke-width="1.0"/>
<line x1="390.7" y1="597.8" x2="390.7" y2="610.8" stroke="#6f6f6f" stroke-width="1.0"/>
<line x1="393.2" y1="599.2" x2="393.2" y2="612.2" stroke="#6f6f6f" stroke-width="1.0"/>
<line x1="395.7" y1="600.6" x2="395.7" y2="613.6" stroke="#6f6f6f" stroke-width="1.0"/>
<line x1="398.2" y1="602.0" x2="398.2" y2="615.0" stroke="#6f6f6f" stroke-width="1.0"/>
<line x1="400.7" y1="603.4" x2="400.7" y2="616.4" stroke="#6f6f6f" stroke-width="1.0"/>
<line x1="403.2" y1="604.8" x2="403.2" y2="617.8" stroke="#6f6f6f" stroke-width="1.0"/>
<line x1="405.7" y1="606.2" x2="405.7" y2="619.2" stroke="#6f6f6f" stroke-width="1.0"/>
<line x1="408.2" y1="607.6" x2="408.2" y2="620.6" stroke="#6f6f6f" stroke-width="1.0"/>
<line x1="410.7" y1="609.0" x2="410.7" y2="622.0" stroke="#6f6f6f" stroke-width="1.0"/>
<line x1="413.2" y1="610.4" x2="413.2" y2="623.4" stroke="#6f6f6f" stroke-width="1.0"/>
<line x1="415.7" y1="611.8" x2="415.7" y2="624.8" stroke="#6f6f6f" stroke-width="1.0"/>
<line x1="418.2" y1="613.2" x2="418.2" y2="626.2" stroke="#6f6f6f" stroke-width="1.0"/>
<line x1="420.7" y1="614.6" x2="420.7" y2="627.6" stroke="#6f6f6f" stroke-width="1.0"/>
<line x1="423.2" y1="616.0" x2="423.2" y2="629.0" stroke="#6f6f6f" stroke-width="1.0"/>
<line x1="425.6" y1="617.4" x2="425.6" y2="630.4" stroke="#6f6f6f" stroke-width="1.0"/>
<line x1="428.1" y1="618.8" x2="428.1" y2="631.8" stroke="#6f6f6f" stroke-width="1.0"/>
<line x1="430.6" y1="620.2" x2="430.6" y2="633.2" stroke="#6f6f6f" stroke-width="1.0"/>
<line x1="433.1" y1="621.6" x2="433.1" y2="634.6" stroke="#6f6f6f" stroke-width="1.0"/>
<line x1="435.6" y1="623.0" x2="435.6" y2="636.0" stroke="#6f6f6f" stroke-width="1.0"/>
<line x1="438.1" y1="624.4" x2="438.1" y2="637.4" stroke="#6f6f6f" stroke-width="1.0"/>
<line x1="440.6" y1="625.8" x2="440.6" y2="638.8" stroke="#6f6f6f" stroke-width="1.0"/>
<line x1="443.1" y1="627.2" x2="443.1" y2="640.2" stroke="#6f6f6f" stroke-width="1.0"/>
<line x1="445.6" y1="628.6" x2="445.6" y2="641.6" stroke="#6f6f6f" stroke-width="1.0"/>
<line x1="448.1" y1="630.0" x2="448.1" y2="643.0" stroke="#6f6f6f" stroke-width="1.0"/>
<line x1="450.6" y1="631.4" x2="450.6" y2="644.4" stroke="#6f6f6f" stroke-width="1.0"/>
<line x1="453.1" y1="632.8" x2="453.1" y2="645.8" stroke="#6f6f6f" stroke-width="1.0"/>
<line x1="455.6" y1="634.2" x2="455.6" y2="647.2" stroke="#6f6f6f" stroke-width="1.0"/>
<line x1="458.1" y1="635.6" x2="458.1" y2="648.6" stroke="#6f6f6f" stroke-width="1.0"/>
<line x1="460.5" y1="637.0" x2="460.5" y2="650.0" stroke="#6f6f6f" stroke-width="1.0"/>
<line x1="463.0" y1="638.4" x2="463.0" y2="651.4" stroke="#6f6f6f" stroke-width="1.0"/>
<line x1="465.5" y1="639.8" x2="465.5" y2="652.8" stroke="#6f6f6f" stroke-width="1.0"/>
<line x1="468.0" y1="641.2" x2="468.0" y2="654.2" stroke="#6f6f6f" stroke-width="1.0"/>
<line x1="470.5" y1="642.6" x2="470.5" y2="655.6" stroke="#6f6f6f" stroke-width="1.0"/>
<line x1="473.0" y1="644.0" x2="473.0" y2="657.0" stroke="#6f6f6f" stroke-width="1.0"/>
<line x1="475.5" y1="645.4" x2="475.5" y2="658.4" stroke="#6f6f6f" stroke-width="1.0"/>
<line x1="478.0" y1="646.8" x2="478.0" y2="659.8" stroke="#6f6f6f" stroke-width="1.0"/>
<line x1="242.0" y1="241.0" x2="242.0" y2="254.0" stroke="#6f6f6f" stroke-width="1.0"/>
<line x1="244.7" y1="242.5" x2="244.7" y2="255.5" stroke="#6f6f6f" stroke-width="1.0"/>
<line x1="247.3" y1="244.0" x2="247.3" y2="257.0" stroke="#6f6f6f" stroke-width="1.0"/>
<line x1="250.0" y1="245.5" x2="250.0" y2="258.5" stroke="#6f6f6f" stroke-width="1.0"/>
<line x1="252.7" y1="247.0" x2="252.7" y2="260.0" stroke="#6f6f6f" stroke-width="1.0"/>
<line x1="255.3" y1="248.5" x2="255.3" y2="261.5" stroke="#6f6f6f" stroke-width="1.0"/>
<line x1="258.0" y1="250.0" x2="258.0" y2="263.0" stroke="#6f6f6f" stroke-width="1.0"/>
<line x1="260.7" y1="251.5" x2="260.7" y2="264.5" stroke="#6f6f6f" stroke-width="1.0"/>
<line x1="263.3" y1="253.0" x2="263.3" y2="266.0" stroke="#6f6f6f" stroke-width="1.0"/>
<line x1="266.0" y1="254.5" x2="266.0" y2="267.5" stroke="#6f6f6f" stroke-width="1.0"/>
<line x1="268.7" y1="256.0" x2="268.7" y2="269.0" stroke="#6f6f6f" stroke-width="1.0"/>
<line x1="271.3" y1="257.5" x2="271.3" y2="270.5" stroke="#6f6f6f" stroke-width="1.0"/>
<line x1="274.0" y1="259.0" x2="274.0" y2="272.0" stroke="#6f6f6f" stroke-width="1.0"/>
<line x1="242.5" y1="514.5" x2="242.5" y2="523.5" stroke="#6f6f6f" stroke-width="1.0"/>
<line x1="244.9" y1="515.5" x2="244.9" y2="524.5" stroke="#6f6f6f" stroke-width="1.0"/>
<line x1="247.3" y1="516.5" x2="247.3" y2="525.5" stroke="#6f6f6f" stroke-width="1.0"/>
<line x1="249.8" y1="517.6" x2="249.8" y2="526.6" stroke="#6f6f6f" stroke-width="1.0"/>
<line x1="252.2" y1="518.6" x2="252.2" y2="527.6" stroke="#6f6f6f" stroke-width="1.0"/>
<line x1="254.6" y1="519.6" x2="254.6" y2="528.6" stroke="#6f6f6f" stroke-width="1.0"/>
<line x1="257.0" y1="520.6" x2="257.0" y2="529.6" stroke="#6f6f6f" stroke-width="1.0"/>
<line x1="259.5" y1="521.6" x2="259.5" y2="530.6" stroke="#6f6f6f" stroke-width="1.0"/>
<line x1="261.9" y1="522.6" x2="261.9" y2="531.6" stroke="#6f6f6f" stroke-width="1.0"/>
<line x1="264.3" y1="523.7" x2="264.3" y2="532.7" stroke="#6f6f6f" stroke-width="1.0"/>
<line x1="266.7" y1="524.7" x2="266.7" y2="533.7" stroke="#6f6f6f" stroke-width="1.0"/>
<line x1="269.2" y1="525.7" x2="269.2" y2="534.7" stroke="#6f6f6f" stroke-width="1.0"/>
<line x1="271.6" y1="526.7" x2="271.6" y2="535.7" stroke="#6f6f6f" stroke-width="1.0"/>
<line x1="274.0" y1="527.7" x2="274.0" y2="536.7" stroke="#6f6f6f" stroke-width="1.0"/>
<polygon points="506,406.6 515.6,410 515.6,682 506,677" fill="#e9e9ea"/>
<line x1="278" y1="257.7" x2="278" y2="548" stroke="#969696" stroke-width="1.8"/>
<line x1="239" y1="238" x2="239" y2="526" stroke="#fbfbfb" stroke-width="1.2"/>
<polyline points="294.4,539.0 294.4,285.4 479.0,389.0 479.0,660.0" fill="none" stroke="#ababab" stroke-width="1.2"/>
<polygon points="265.9,286.8 268.0,286.0 274.5,290.0 274.5,321.5 265.9,319.5" fill="#383838"/>
<polygon points="269.4,291.0 271.8,292.0 271.8,308.0 269.4,307.0" fill="#262626"/>
<polygon points="271.1,292.0 273.0,291.2 288.1,296.5 288.1,327.3 271.1,323.8" fill="#404040"/>
<polygon points="271.1,292.0 273.0,291.2 288.1,296.5 288.1,298.5 271.1,294.0" fill="#555"/>
<line x1="276.8" y1="293.5" x2="276.8" y2="325" stroke="#262626" stroke-width="1.3"/>
<polygon points="265.9,480.4 268.0,479.6 274.5,483.6 274.5,515.1 265.9,513.1" fill="#383838"/>
<polygon points="269.4,484.6 271.8,485.6 271.8,501.6 269.4,500.6" fill="#262626"/>
<polygon points="271.1,485.6 273.0,484.8 288.1,490.1 288.1,520.9 271.1,517.4" fill="#404040"/>
<polygon points="271.1,485.6 273.0,484.8 288.1,490.1 288.1,492.1 271.1,487.6" fill="#555"/>
<line x1="276.8" y1="487.1" x2="276.8" y2="518.6" stroke="#262626" stroke-width="1.3"/>
<polygon points="300.1,324.2 324.1,337.6 324.1,352.3 300.1,338.9" fill="#505050"/>
<polygon points="303.0,328.8 309.0,332.2 309.0,341.9 303.0,338.5" fill="#0e0e0e"/>
<ellipse cx="316.9" cy="341.0" rx="2.6" ry="3" fill="none" stroke="#2a2a2a" stroke-width="1"/>
<polygon points="448.2,409.2 472.7,422.9 472.7,437.2 448.2,423.5" fill="#505050"/>
<polygon points="462.4,420.2 468.3,423.5 468.3,432.8 462.4,429.5" fill="#0e0e0e"/>
<ellipse cx="455.6" cy="420.5" rx="2.6" ry="3" fill="none" stroke="#2a2a2a" stroke-width="1"/>
<path d="M378.2 449.5 L378.4 466 Q379.5 478.8 388 479 Q395.5 478.6 396.6 471.5" fill="none" stroke="#d0d0d0" stroke-width="5"/>
<circle cx="393.3" cy="462.5" r="0.9" fill="#c8c8c8"/>
<circle cx="396.2" cy="460.4" r="0.8" fill="#c8c8c8"/>
<circle cx="395.9" cy="466.2" r="0.9" fill="#c8c8c8"/>
<ellipse cx="281.2" cy="230.7" rx="12.6" ry="7.5" fill="#2a2a2a"/>
<ellipse cx="281.2" cy="230.2" rx="10" ry="5.7" fill="#393939" stroke="#4c4c4c" stroke-width="0.8"/>
<line x1="274.2" y1="232.7" x2="288.2" y2="227.7" stroke="#2a2a2a" stroke-width="0.9"/>
<ellipse cx="308.7" cy="215" rx="12.6" ry="7.5" fill="#2a2a2a"/>
<ellipse cx="308.7" cy="214.5" rx="10" ry="5.7" fill="#393939" stroke="#4c4c4c" stroke-width="0.8"/>
<line x1="301.7" y1="217" x2="315.7" y2="212" stroke="#2a2a2a" stroke-width="0.9"/>
<ellipse cx="443.1" cy="138.6" rx="12.6" ry="7.5" fill="#2a2a2a"/>
<ellipse cx="443.1" cy="138.1" rx="10" ry="5.7" fill="#393939" stroke="#4c4c4c" stroke-width="0.8"/>
<line x1="436.1" y1="140.6" x2="450.1" y2="135.6" stroke="#2a2a2a" stroke-width="0.9"/>
<ellipse cx="471" cy="123.1" rx="12.6" ry="7.5" fill="#2a2a2a"/>
<ellipse cx="471" cy="122.6" rx="10" ry="5.7" fill="#393939" stroke="#4c4c4c" stroke-width="0.8"/>
<line x1="464" y1="125.1" x2="478" y2="120.1" stroke="#2a2a2a" stroke-width="0.9"/>
<ellipse cx="327.4" cy="204" rx="1.5" ry="1.1" fill="#222"/>
<ellipse cx="424.2" cy="148.8" rx="1.5" ry="1.1" fill="#222"/>
<ellipse cx="461.7" cy="170.3" rx="1.5" ry="1.1" fill="#222"/>
<ellipse cx="364.3" cy="225.6" rx="1.5" ry="1.1" fill="#222"/>
<ellipse cx="375.6" cy="177" rx="1.3" ry="0.9" fill="#b5b5b5"/>
<ellipse cx="413.1" cy="198" rx="1.3" ry="0.9" fill="#b5b5b5"/>
<line x1="340.5" y1="212" x2="439.3" y2="156.7" stroke="#a8a8a8" stroke-width="0.9"/>
<line x1="341" y1="213.2" x2="439.8" y2="157.9" stroke="#f6f6f6" stroke-width="0.7"/>
<line x1="376.8" y1="234.3" x2="476.5" y2="178.5" stroke="#a8a8a8" stroke-width="0.9"/>
<line x1="377.3" y1="235.5" x2="477" y2="179.7" stroke="#f6f6f6" stroke-width="0.7"/>
<g transform="translate(471,277.2) scale(1,0.558)">
<circle r="31.1" fill="none" stroke="#1f1f1f" stroke-width="2.65"/>
<circle r="25.6" fill="none" stroke="#1f1f1f" stroke-width="2.65"/>
<circle r="20.0" fill="none" stroke="#1f1f1f" stroke-width="2.65"/>
<circle r="14.75" fill="none" stroke="#1f1f1f" stroke-width="2.65"/>
<line x1="-2.9" y1="-11.6" x2="-8.5" y2="-34.0" stroke="#e8e8eb" stroke-width="2.6"/>
<line x1="11.8" y1="2.1" x2="34.5" y2="6.1" stroke="#e8e8eb" stroke-width="2.6"/>
<line x1="2.1" y1="11.8" x2="6.1" y2="34.5" stroke="#e8e8eb" stroke-width="2.6"/>
<line x1="-11.8" y1="-2.1" x2="-34.5" y2="-6.1" stroke="#e8e8eb" stroke-width="2.6"/>
</g>
<ellipse cx="471" cy="253.29999999999998" rx="1.8" ry="1.3" fill="#1f1f1f"/>
<ellipse cx="471" cy="300.59999999999997" rx="1.8" ry="1.3" fill="#1f1f1f"/>
<ellipse cx="429.5" cy="277.2" rx="1.8" ry="1.3" fill="#1f1f1f"/>
<ellipse cx="512.5" cy="277.2" rx="1.8" ry="1.3" fill="#1f1f1f"/>
<g transform="translate(550.1,232) scale(1,0.558)">
<circle r="31.1" fill="none" stroke="#1f1f1f" stroke-width="2.65"/>
<circle r="25.6" fill="none" stroke="#1f1f1f" stroke-width="2.65"/>
<circle r="20.0" fill="none" stroke="#1f1f1f" stroke-width="2.65"/>
<circle r="14.75" fill="none" stroke="#1f1f1f" stroke-width="2.65"/>
<line x1="-2.9" y1="-11.6" x2="-8.5" y2="-34.0" stroke="#e8e8eb" stroke-width="2.6"/>
<line x1="11.8" y1="2.1" x2="34.5" y2="6.1" stroke="#e8e8eb" stroke-width="2.6"/>
<line x1="2.1" y1="11.8" x2="6.1" y2="34.5" stroke="#e8e8eb" stroke-width="2.6"/>
<line x1="-11.8" y1="-2.1" x2="-34.5" y2="-6.1" stroke="#e8e8eb" stroke-width="2.6"/>
</g>
<ellipse cx="550.1" cy="208.1" rx="1.8" ry="1.3" fill="#1f1f1f"/>
<ellipse cx="550.1" cy="255.4" rx="1.8" ry="1.3" fill="#1f1f1f"/>
<ellipse cx="508.6" cy="232" rx="1.8" ry="1.3" fill="#1f1f1f"/>
<ellipse cx="591.6" cy="232" rx="1.8" ry="1.3" fill="#1f1f1f"/>
<polygon points="769.0,91.5 781.5,91.5 782.3,336.0 768.5,367.0 751.5,367.0 750.5,245.0 766.0,135.0" fill="#e8e8ea"/>
<polygon points="751.5,366.0 768.5,366.0 752.0,534.0" fill="#f0f0f1"/>
<polygon points="770.4,115.5 779.5,104.0 782.3,104.0 782.3,336.0 768.5,366.8 765.0,333.6 764.4,245.0 768.3,135.0" fill="#9c9c9c"/>
<polygon points="772.5,113.0 779.5,104.0 782.3,104.0 782.3,336.0 772.5,354.0" fill="#8c8c8c"/>
<polygon points="780.0,104.0 782.3,104.0 782.3,336.0 780.0,340.0" fill="#6e6e6e"/>
<rect x="779.5" y="103" width="3.5" height="5" fill="#555"/>
<rect x="762" y="216" width="21.5" height="12" fill="#a8a8a8" stroke="#5a5a5a" stroke-width="0.8"/>
<line x1="772" y1="216" x2="772" y2="228" stroke="#5a5a5a" stroke-width="0.8"/>
<rect x="762.7" y="329.0" width="3.6" height="5" fill="#555"/>
<rect x="778.2" y="329.0" width="3.6" height="5" fill="#555"/>
<ellipse cx="772.6" cy="343" rx="1.6" ry="1.2" fill="#e8e8e8"/>
<rect x="751" y="212" width="3" height="18" fill="#6a6a6a"/>
<text x="290.7" y="67" font-size="22.8" fill="#4d4d4d" textLength="167" lengthAdjust="spacingAndGlyphs">(4) Top knockout</text>
<text x="2" y="252.5" font-size="22.8" fill="#4d4d4d" textLength="155.8" lengthAdjust="spacingAndGlyphs">(2) Pre-installed</text>
<text x="2" y="279.5" font-size="22.8" fill="#4d4d4d" textLength="120.6" lengthAdjust="spacingAndGlyphs">fan modules</text>
<text x="2" y="339.6" font-size="22.8" fill="#4d4d4d" textLength="190.6" lengthAdjust="spacingAndGlyphs">(4) Side panel locks</text>
<text x="2" y="426.6" font-size="22.8" fill="#4d4d4d" textLength="111.4" lengthAdjust="spacingAndGlyphs">Wall mount</text>
<text x="2" y="513.8" font-size="22.8" fill="#4d4d4d" textLength="201.2" lengthAdjust="spacingAndGlyphs">(2) Solid side panels,</text>
<text x="2" y="540.3" font-size="22.8" fill="#4d4d4d" textLength="233.3" lengthAdjust="spacingAndGlyphs">removable and lockable</text>
<text x="802" y="405.5" font-size="22.8" fill="#4d4d4d" textLength="273.1" lengthAdjust="spacingAndGlyphs">Adjustable mounting depth:</text>
<text x="836.3" y="432.4" font-size="22.8" fill="#4d4d4d" textLength="161.5" lengthAdjust="spacingAndGlyphs">Default 434 mm</text>
<text x="836.3" y="459.2" font-size="22.8" fill="#4d4d4d" textLength="137.1" lengthAdjust="spacingAndGlyphs">Max. 559 mm</text>
<text x="836.3" y="486.5" font-size="22.8" fill="#4d4d4d" textLength="235.5" lengthAdjust="spacingAndGlyphs">Adjustable pitch 25 mm</text>
<circle cx="818" cy="424.7" r="2.5" fill="#4d4d4d"/>
<circle cx="818" cy="451.5" r="2.5" fill="#4d4d4d"/>
<circle cx="818" cy="478.8" r="2.5" fill="#4d4d4d"/>
<line x1="280.9" y1="173.8" x2="469.9" y2="69.2" stroke="#8a8a8a" stroke-width="1.8"/>
<line x1="280.9" y1="173.8" x2="280.9" y2="228" stroke="#8a8a8a" stroke-width="1.8"/>
<line x1="307.9" y1="159.4" x2="307.9" y2="213" stroke="#8a8a8a" stroke-width="1.8"/>
<line x1="442.7" y1="84.9" x2="442.7" y2="136" stroke="#8a8a8a" stroke-width="1.8"/>
<line x1="469.9" y1="69.2" x2="469.9" y2="121" stroke="#8a8a8a" stroke-width="1.8"/>
<line x1="373.8" y1="83.6" x2="373.8" y2="121.5" stroke="#8a8a8a" stroke-width="1.8"/>
<circle cx="373.8" cy="83.6" r="2.8" fill="#8a8a8a"/>
<line x1="174.8" y1="258.8" x2="436.4" y2="258.8" stroke="#8a8a8a" stroke-width="1.8"/>
<circle cx="174.8" cy="258.8" r="2.8" fill="#8a8a8a"/>
<line x1="203.6" y1="332" x2="296.5" y2="332" stroke="#8a8a8a" stroke-width="1.8"/>
<circle cx="203.6" cy="332" r="2.8" fill="#8a8a8a"/>
<line x1="124.4" y1="418.7" x2="239" y2="418.7" stroke="#8a8a8a" stroke-width="1.8"/>
<circle cx="124.4" cy="418.7" r="2.8" fill="#8a8a8a"/>
<line x1="242" y1="519.3" x2="339.9" y2="519.3" stroke="#8a8a8a" stroke-width="1.8"/>
<line x1="635.6" y1="451.8" x2="789.6" y2="451.8" stroke="#8a8a8a" stroke-width="1.8"/>
<circle cx="789.6" cy="451.8" r="2.8" fill="#8a8a8a"/>
</svg></body></html>
